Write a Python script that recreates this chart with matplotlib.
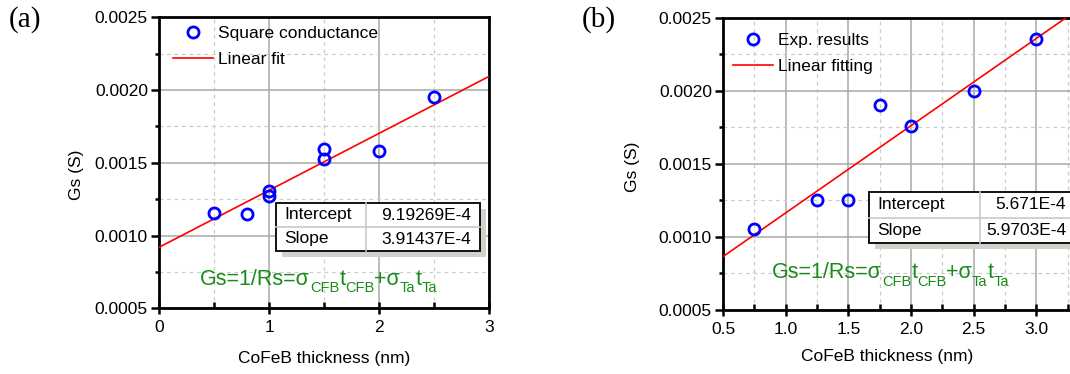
import numpy as np
import matplotlib
matplotlib.use("Agg")
import matplotlib.pyplot as plt
from matplotlib.patches import Rectangle
from matplotlib.lines import Line2D
from matplotlib.ticker import MultipleLocator, FixedLocator, FormatStrFormatter

plt.rcParams['font.family'] = ['Liberation Sans', 'DejaVu Sans']

# ---- data ----
xa = [0.5, 0.8, 1.0, 1.0, 1.5, 1.5, 2.0, 2.5]
ya = [0.001153, 0.001146, 0.001308, 0.001272, 0.001595, 0.001526, 0.001579, 0.001954]
fit_a = (9.19269e-4, 3.91437e-4)
xlim_a = (0, 3)
xticks_a = [0, 1, 2, 3]

xb = [0.75, 1.25, 1.5, 1.75, 2.0, 2.5, 3.0]
yb = [0.001054, 0.001251, 0.001251, 0.001900, 0.001757, 0.001996, 0.002356]
fit_b = (5.671e-4, 5.9703e-4)
xlim_b = (0.5, 3.5)
xticks_b = [0.5, 1.0, 1.5, 2.0, 2.5, 3.0]

labels_a = ("Square conductance", "Linear fit")
labels_b = ("Exp. results", "Linear fitting")
table_a = [("Intercept", "9.19269E-4"), ("Slope", "3.91437E-4")]
table_b = [("Intercept", "5.671E-4"), ("Slope", "5.9703E-4")]
# equation pieces: (text, is_subscript)
equation = [("Gs=1/Rs=\u03c3", False), ("CFB", True), ("t", False), ("CFB", True),
            ("+\u03c3", False), ("Ta", True), ("t", False), ("Ta", True)]

W, H = 1070, 374
fig = plt.figure(figsize=(W / 100, H / 100), dpi=100)
renderer = fig.canvas.get_renderer()

def fx(px):
    return px / W

def fy(py):
    return 1 - py / H

FS = 12.5
EQ_MAIN = 15.5
EQ_SUB = 10.5

def draw_equation(x0, y0):
    x = x0
    for txt, sub in equation:
        fs = EQ_SUB if sub else EQ_MAIN
        yy = y0 + (7.5 if sub else 0)
        t = fig.text(fx(x), fy(yy), txt, fontsize=fs, color='#1a8a1a',
                     ha='left', va='baseline', zorder=8)
        bb = t.get_window_extent(renderer)
        x += bb.width

def make_axes(rect, xs, ys, fit, xlim, xticks, xmin, labels, leg_anchor, table, tbox, eq_pos, letter, letter_pos, ylabel_pos, xlabel_pos):
    l, t, r, b = rect
    ax = fig.add_axes([fx(l), fy(b), fx(r - l), (b - t) / H])
    ax.set_xlim(*xlim)
    ax.set_ylim(0.0005, 0.0025)
    ax.xaxis.set_major_locator(FixedLocator(xticks))
    ax.xaxis.set_minor_locator(MultipleLocator(xmin))
    ax.yaxis.set_major_locator(MultipleLocator(0.0005))
    ax.yaxis.set_minor_locator(MultipleLocator(0.00025))
    ax.yaxis.set_major_formatter(FormatStrFormatter('%.4f'))
    if xticks[1] - xticks[0] == 1:
        ax.xaxis.set_major_formatter(FormatStrFormatter('%d'))
    else:
        ax.xaxis.set_major_formatter(FormatStrFormatter('%.1f'))
    ax.set_axisbelow(True)
    ax.grid(which='major', color='#a8a8a8', lw=1.1, ls='-')
    ax.grid(which='minor', color='#cccccc', lw=0.9, ls=(0, (3, 3)))
    for s in ax.spines.values():
        s.set_linewidth(2.0)
    ax.tick_params(axis='x', which='major', direction='inout', length=9, width=1.8, labelsize=FS, pad=4)
    ax.tick_params(axis='x', which='minor', direction='in', length=4, width=1.8)
    ax.tick_params(axis='y', which='major', direction='out', length=6, width=1.8, labelsize=FS, pad=2)
    ax.tick_params(axis='y', which='minor', direction='out', length=3, width=1.8)

    a0, b0 = fit
    xl = np.array(xlim, dtype=float)
    ln, = ax.plot(xl, a0 + b0 * xl, color='red', lw=1.2, zorder=3)
    pts, = ax.plot(xs, ys, 'o', ms=8, mfc='none', mec='blue', mew=2.0, zorder=4, clip_on=False)

    ax.legend([pts, ln], list(labels), loc='upper left', bbox_to_anchor=leg_anchor,
              bbox_transform=fig.transFigure, frameon=False, fontsize=FS,
              handlelength=2.3, handletextpad=0.3, labelspacing=0.6,
              borderpad=0, borderaxespad=0)

    # fit table
    tl, tt, tr, tb, tc = tbox
    tm = (tt + tb) / 2
    shadow = Rectangle((fx(tl + 6), fy(tb + 6)), fx(tr - tl), (tb - tt) / H,
                       transform=fig.transFigure, facecolor='#d4d0cb', edgecolor='none', zorder=5)
    box = Rectangle((fx(tl), fy(tb)), fx(tr - tl), (tb - tt) / H,
                    transform=fig.transFigure, facecolor='white', edgecolor='black', lw=1.3, zorder=6)
    fig.add_artist(shadow)
    fig.add_artist(box)
    fig.add_artist(Line2D([fx(tl), fx(tr)], [fy(tm), fy(tm)], color='#c8c8c8', lw=1.2, zorder=7))
    fig.add_artist(Line2D([fx(tc), fx(tc)], [fy(tt), fy(tb)], color='#c8c8c8', lw=1.2, zorder=7))
    for i, (name, val) in enumerate(table):
        yc = tt + (tb - tt) * (0.25 + 0.5 * i)
        fig.text(fx(tl + 8), fy(yc), name, fontsize=FS, va='center', ha='left', zorder=8)
        fig.text(fx(tr - 9), fy(yc), val, fontsize=FS, va='center', ha='right', zorder=8)

    draw_equation(*eq_pos)
    fig.text(fx(letter_pos[0]), fy(letter_pos[1]), letter, fontsize=21,
             family=['Liberation Serif', 'DejaVu Serif'], ha='left', va='center')
    fig.text(fx(ylabel_pos[0]), fy(ylabel_pos[1]), 'Gs (S)', fontsize=FS, rotation=90,
             ha='center', va='center')
    fig.text(fx(xlabel_pos[0]), fy(xlabel_pos[1]), 'CoFeB thickness (nm)', fontsize=FS,
             ha='center', va='center')
    return ax

make_axes((159, 17.3, 489, 308.3), xa, ya, fit_a, xlim_a, xticks_a, 0.5, labels_a,
          (fx(173), fy(26)), table_a, (276, 203, 480, 251, 366), (200, 285),
          '(a)', (9, 20), (77, 175), (324, 358))
make_axes((723, 17.7, 1099, 310), xb, yb, fit_b, xlim_b, xticks_b, 0.25, labels_b,
          (fx(733), fy(33)), table_b, (869, 192, 1075, 243, 980), (772, 278),
          '(b)', (582, 20), (633, 167), (887, 357))

fig.savefig('out.png', dpi=100)
